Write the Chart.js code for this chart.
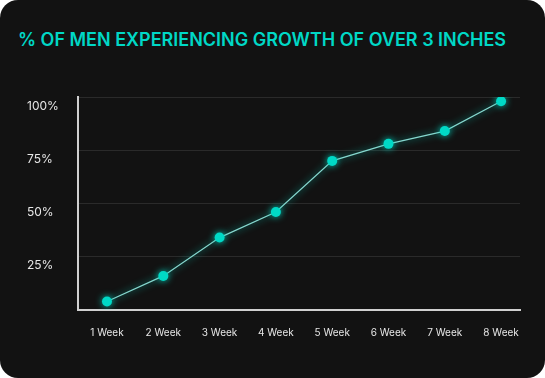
<!DOCTYPE html>
<html>
<head>
<meta charset="utf-8">
<script src="https://cdn.jsdelivr.net/npm/chart.js@4/dist/chart.umd.min.js"></script>
<style>
  html, body { margin: 0; padding: 0; background: #ffffff; }
  .card {
    position: relative;
    width: 545px; height: 378px;
    background: #121212;
    border-radius: 18px;
    overflow: hidden;
  }
  .titulo {
    position: absolute;
    left: 0; top: 29px;
    width: 524px;
    text-align: center;
    font-family: 'Inter', sans-serif;
    font-size: 18px;
    font-weight: 600;
    line-height: 22px;
    color: #00d8c6;
    white-space: nowrap;
  }
  canvas { position: absolute; left: 0; top: 0; }
</style>
</head>
<body>
<div class="card">
  <div class="titulo" id="titulo"></div>
  <canvas id="grafico" width="545" height="378"></canvas>
</div>
<script>
const titulo = '% OF MEN EXPERIENCING GROWTH OF OVER 3 INCHES'
const semanas = ['1 Week', '2 Week', '3 Week', '4 Week', '5 Week', '6 Week', '7 Week', '8 Week']
const porcentajes = [4, 16, 34, 46, 70, 78, 84, 98]
const ticksY = [25, 50, 75, 100]

document.getElementById('titulo').textContent = titulo

// puntos en eje lineal: 1..8
let puntos = []
for(let i = 0; i < semanas.length; i++){
  puntos.push({x: i + 1, y: porcentajes[i]})
}

const glow = {
  id: 'glow',
  beforeDatasetDraw(chart){
    chart.ctx.save()
    chart.ctx.shadowColor = 'rgba(0, 215, 195, 0.9)'
    chart.ctx.shadowBlur = 7
  },
  afterDatasetDraw(chart){
    chart.ctx.restore()
  }
}

const config = {
  type: 'line',
  data: {
    datasets: [{
      label: titulo,
      data: puntos,
      borderColor: '#86d8cf',
      borderWidth: 1.2,
      pointRadius: 5,
      pointHoverRadius: 5,
      pointBackgroundColor: '#00d9c6',
      pointBorderWidth: 0,
      tension: 0
    }]
  },
  options: {
    responsive: false,
    animation: false,
    layout: {
      padding: {left: 27, right: 25, top: 97, bottom: 0}
    },
    scales: {
      x: {
        type: 'linear',
        min: 0.485,
        max: 8.336,
        grid: {display: false, drawTicks: false},
        border: {display: true, color: '#d0d0d0', width: 2},
        afterBuildTicks: (scale) => {
          scale.ticks = semanas.map((s, i) => ({value: i + 1}))
        },
        ticks: {
          autoSkip: false,
          maxRotation: 0,
          padding: 17,
          color: '#e6e6e6',
          font: {family: 'Inter', size: 10},
          callback: (v) => semanas[Math.round(v) - 1]
        },
        afterFit: (scale) => { scale.height = 68 }
      },
      y: {
        min: 0,
        max: 100,
        grid: {color: '#2a2a2a', lineWidth: 1, drawTicks: false},
        border: {display: true, color: '#d0d0d0', width: 2},
        ticks: {
          stepSize: 25,
          crossAlign: 'far',
          padding: 22,
          labelOffset: 9,
          color: '#e6e6e6',
          font: {family: 'Inter', size: 12},
          callback: (v) => ticksY.includes(v) ? v + '%' : null
        },
        afterFit: (scale) => { scale.width = 51 }
      }
    },
    plugins: {
      legend: {display: false},
      tooltip: {enabled: false},
      title: {display: false}
    }
  },
  plugins: [glow]
}

const myChart = new Chart(document.getElementById('grafico'), config)
</script>
</body>
</html>
